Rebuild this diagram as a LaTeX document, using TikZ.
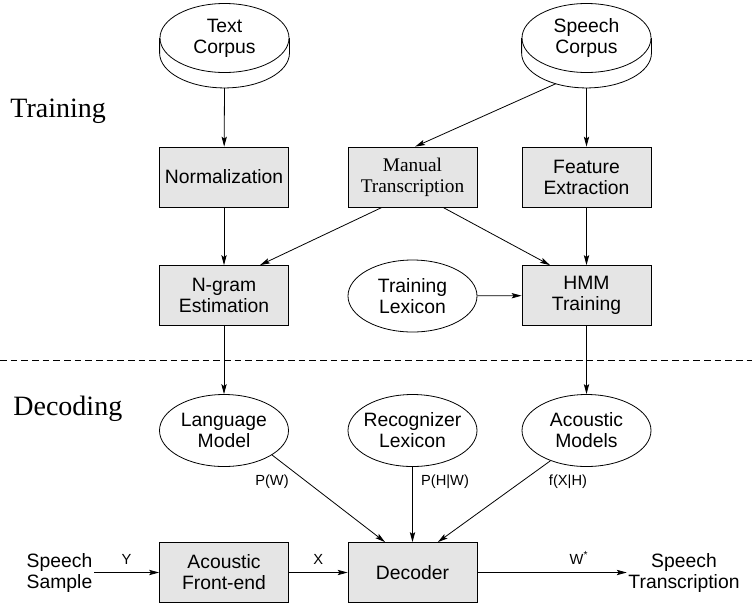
\documentclass[tikz,border=0pt]{standalone}
\usepackage{fontspec}
\setmainfont{Liberation Sans}
\newfontfamily\timesfont{Liberation Serif}
\usetikzlibrary{arrows.meta,shapes.geometric}

\tikzset{
	box/.style={draw, fill=gray!20, minimum width=96.75pt, minimum height=45pt,
		inner sep=1pt, align=center, font=\fontsize{14.5}{15.75}\selectfont},
	oval/.style={draw, ellipse, fill=white, minimum width=96.75pt, minimum height=54pt,
		inner xsep=-3pt, inner ysep=0pt, align=center, font=\fontsize{14.5}{15.75}\selectfont},
	db/.style={oval, minimum height=51.75pt},
	plain/.style={inner sep=1pt, align=center, font=\fontsize{14.5}{15.75}\selectfont},
	lbl/.style={inner sep=1pt, font=\fontsize{11}{12}\selectfont},
	phase/.style={anchor=base west, inner sep=0pt, font=\timesfont\fontsize{21}{24}\selectfont},
	arr/.style={-{Stealth[length=7.5pt, width=4pt, inset=1.5pt]}}
}

\begin{document}
\begin{tikzpicture}[x=0.75pt, y=-0.75pt, line width=0.6pt]
	\useasboundingbox (0,0) rectangle (752,604);

	% phases
	\node[phase] (TR) at (10,117) {Training};
	\node[phase] (DC) at (13,415) {Decoding};
	\coordinate (DL) at (0,360);
	\coordinate (DR) at (752,360);
	\draw[dash pattern=on 5pt off 3pt] (DL) -- (DR);

	% corpora
	\node[db] (TC) at (224.5,38) {Text\\Corpus};
	\node[db] (SC) at (586.5,38) {Speech\\Corpus};
	\draw (TC.west) -- ++(0,15) arc[start angle=180, end angle=360, x radius=48.7pt, y radius=26.2pt] -- (TC.east);
	\draw (SC.west) -- ++(0,15) arc[start angle=180, end angle=360, x radius=48.7pt, y radius=26.2pt] -- (SC.east);

	% training
	\node[box] (NO) at (224,177) {Normalization};
	\node[box, font=\timesfont\fontsize{14.5}{15.75}\selectfont] (MT) at (412.5,177) {Manual\\Transcription};
	\node[box] (FX) at (586.5,177) {Feature\\Extraction};
	\node[box] (NG) at (224,295.5) {N-gram\\Estimation};
	\node[oval] (TL) at (412.5,296) {Training\\Lexicon};
	\node[box] (HT) at (586.5,295.5) {HMM\\Training};

	\draw[arr] ([yshift=-11.25pt]TC.south) -- (NO);
	\draw[arr] ([yshift=-11.25pt]SC.225) -- ([xshift=2pt]MT.north);
	\draw[arr] ([yshift=-11.25pt]SC.south) -- (FX);
	\draw[arr] (NO) -- (NG);
	\draw[arr] ([xshift=-22.9pt]MT.south) -- ([xshift=27pt]NG.north);
	\draw[arr] ([xshift=22.9pt]MT.south) -- ([xshift=-27.4pt]HT.north);
	\draw[arr] (FX) -- (HT);
	\draw[arr] (TL) -- (HT);

	% decoding
	\node[oval] (LM) at (224,430.5) {Language\\Model};
	\node[oval] (RL) at (412.5,430.5) {Recognizer\\Lexicon};
	\node[oval] (AM) at (586.5,430.5) {Acoustic\\Models};
	\node[box] (AF) at (224,572.5) {Acoustic\\Front-end};
	\node[box] (DE) at (412.5,572.5) {Decoder};
	\node[plain] (SS) at (59.5,572.5) {Speech\\Sample};
	\node[plain] (ST) at (684,572.5) {Speech\\Transcription};

	\draw[arr] (NG) -- (LM);
	\draw[arr] (HT) -- (AM);
	\draw[arr] (LM.-27) -- ([xshift=-20.6pt]DE.north);
	\draw[arr] (RL) -- (DE);
	\draw[arr] (AM.220) -- ([xshift=19pt]DE.north);
	\draw[arr] (SS) -- node[lbl, above=5pt] (Y) {Y} (AF);
	\draw[arr] (AF) -- node[lbl, above=5pt] (X) {X} (DE);
	\draw[arr] (DE) -- node[lbl, above=5pt, pos=0.68] (W) {W\textsuperscript{*}} (ST);

	% probabilities
	\node[lbl] (PW) at (272,482) {P(W)};
	\node[lbl] (PH) at (445,482) {P(H|W)};
	\node[lbl] (FH) at (568,482) {f(X|H)};

\end{tikzpicture}
\end{document}
